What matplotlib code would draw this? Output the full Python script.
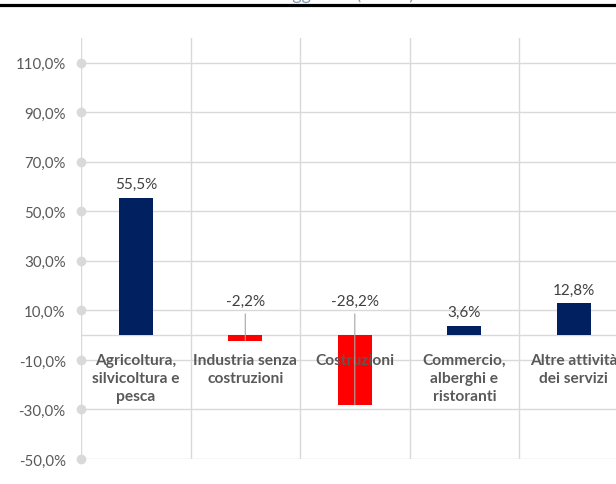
import matplotlib
matplotlib.use("Agg")
import matplotlib.pyplot as plt
from matplotlib.lines import Line2D

# Data
categories = [
    "Agricoltura,\nsilvicoltura e\npesca",
    "Industria senza\ncostruzioni",
    "Costruzioni",
    "Commercio,\nalberghi e\nristoranti",
    "Altre attività\ndei servizi",
]
values = [55.5, -2.2, -28.2, 3.6, 12.8]
y_ticks = [-50, -30, -10, 10, 30, 50, 70, 90, 110]

NAVY = "#002060"
RED = "#FF0000"
GRID = "#d9d9d9"
TEXT = "#595959"
LABEL = "#404040"

plt.rcParams["font.family"] = ["Lato", "DejaVu Sans"]

W, H = 616, 485
fig = plt.figure(figsize=(W / 100, H / 100), dpi=100)
ax = fig.add_axes([81 / W, 25 / H, (W - 81) / W, (460 - 39) / H])

def pct(v):
    return f"{v:.1f}%".replace(".", ",")

x = list(range(len(categories)))
colors = [NAVY if v >= 0 else RED for v in values]
ax.bar(x, values, width=0.31, color=colors, zorder=3)

ax.set_xlim(-0.5, 4.385)
ax.set_ylim(-50, 120)

# gridlines
for yt in y_ticks:
    ax.axhline(yt, color=GRID, lw=1, zorder=1)
for xb in [-0.5, 0.5, 1.5, 2.5, 3.5, 4.5]:
    ax.axvline(xb, color=GRID, lw=1, zorder=1)
ax.axhline(0, color=GRID, lw=1, zorder=2)

# tick dots on the value axis
ax.plot([-0.5] * len(y_ticks), y_ticks, "o", color=GRID, ms=6,
        clip_on=False, zorder=4)

ax.set_yticks(y_ticks)
ax.set_yticklabels([pct(v) for v in y_ticks], color=TEXT, fontsize=10.8)
ax.tick_params(axis="y", length=0, pad=11)
ax.set_xticks([])
for s in ax.spines.values():
    s.set_visible(False)

# category labels just under the zero line
for xi, name in zip(x, categories):
    ax.annotate(name, xy=(xi, 0), xytext=(0, -12.5), textcoords="offset points",
                ha="center", va="top", fontsize=11.2, fontweight="bold",
                color=TEXT, linespacing=1.4, zorder=5)

# value labels
for xi, v in zip(x, values):
    if v >= 0:
        ax.annotate(pct(v), xy=(xi, v), xytext=(0, 10), textcoords="offset points",
                    ha="center", va="center", fontsize=11, color=LABEL, zorder=5)
    else:
        ax.annotate(pct(v), xy=(xi, v), xytext=(xi, 13.7), textcoords="data",
                    ha="center", va="center", fontsize=11, color=LABEL, zorder=5,
                    arrowprops=dict(arrowstyle="-", color="#a6a6a6", lw=0.8,
                                    shrinkA=2, shrinkB=0))

# title band at the top edge
fig.text(0.52, 1.0, "Valore aggiunto (var. %)", ha="center",
         va="baseline", fontsize=13, color="#8497b0")
fig.add_artist(Line2D([0, 1], [1 - 6 / H, 1 - 6 / H], color="black", lw=2.3,
                      transform=fig.transFigure))

fig.savefig("out.png", dpi=100)
